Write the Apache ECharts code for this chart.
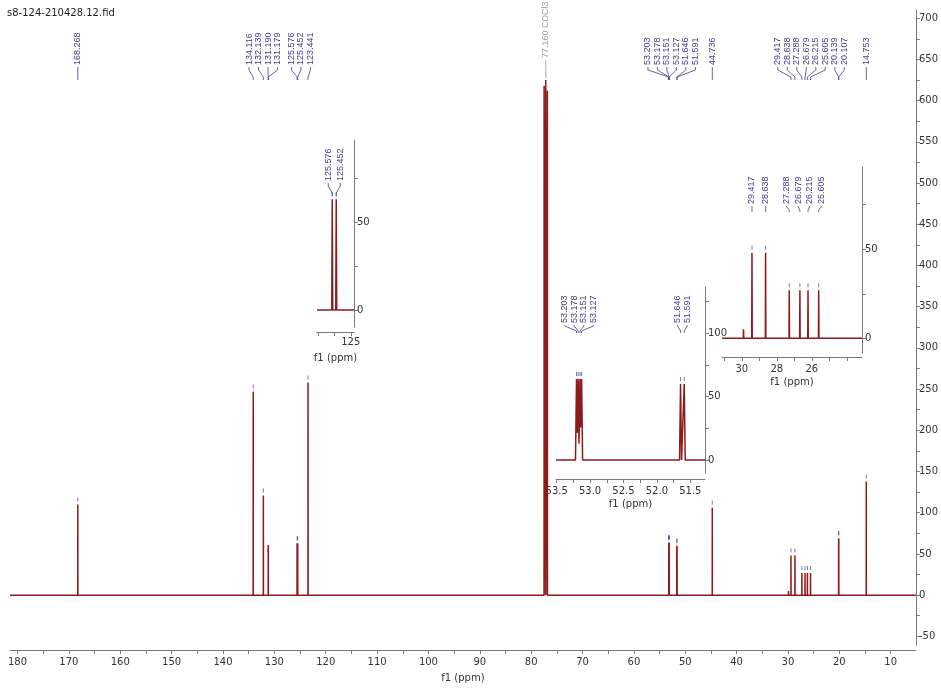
<!DOCTYPE html>
<html>
<head>
<meta charset="utf-8">
<script src="https://cdn.jsdelivr.net/npm/echarts@6/dist/echarts.min.js"></script>
<style>
  html, body { margin: 0; padding: 0; background: #fff; }
  #c { width: 941px; height: 688px; }
</style>
</head>
<body>
<div id="c"></div>
<script>
// 13C NMR spectrum, CDCl3
const specTitle = 's8-124-210428.12.fid';

// Picked peaks: chemical shift (ppm) and intensity
const peakPpm = [168.268, 134.116, 132.139, 131.190, 131.179, 125.576, 125.452, 123.441,
                 53.203, 53.178, 53.151, 53.127, 51.646, 51.591, 44.736,
                 29.900, 29.417, 28.638, 27.288, 26.679, 26.215, 25.605, 20.139, 20.107, 14.753];
const peakInt = [110, 247, 121, 48, 48, 63, 63, 258,
                 64, 64, 64, 64, 60, 60, 106,
                 5, 48, 48, 27, 27, 27, 27, 69, 69, 138];

// Solvent triplet
const solventPpm = [77.480, 77.160, 76.840];
const solventInt = [618, 625, 612];
const solventShift = 77.160;
const solventName = 'CDCl3';

// Shifts annotated on the full spectrum and on each expansion
const mainPicked = [168.268, 134.116, 132.139, 131.190, 131.179, 125.576, 125.452, 123.441,
                    53.203, 53.178, 53.151, 53.127, 51.646, 51.591, 44.736,
                    29.417, 28.638, 27.288, 26.679, 26.215, 25.605, 20.139, 20.107, 14.753];
const inset1Picked = [125.576, 125.452];
const inset2Picked = [53.203, 53.178, 53.151, 53.127, 51.646, 51.591];
const inset3Picked = [29.417, 28.638, 27.288, 26.679, 26.215, 25.605];

// Axis ticks and tick labels
const mainXLabels = [10, 20, 30, 40, 50, 60, 70, 80, 90, 100, 110, 120, 130, 140, 150, 160, 170, 180];
const mainXTicks = [10, 15, 20, 25, 30, 35, 40, 45, 50, 55, 60, 65, 70, 75, 80, 85, 90, 95, 100,
                    105, 110, 115, 120, 125, 130, 135, 140, 145, 150, 155, 160, 165, 170, 175, 180];
const mainYLabels = [-50, 0, 50, 100, 150, 200, 250, 300, 350, 400, 450, 500, 550, 600, 650, 700];
const mainYTicks = [-50, -25, 0, 25, 50, 75, 100, 125, 150, 175, 200, 225, 250, 275, 300, 325, 350,
                    375, 400, 425, 450, 475, 500, 525, 550, 575, 600, 625, 650, 675, 700];
const inset1XLabels = [125];
const inset1XTicks = [125, 125.5, 126];
const inset1YLabels = [0, 50];
const inset1YTicks = [0, 25, 50, 75];
const inset2XLabels = [51.5, 52.0, 52.5, 53.0, 53.5];
const inset2XTicks = [51.5, 51.75, 52.0, 52.25, 52.5, 52.75, 53.0, 53.25, 53.5];
const inset2YLabels = [0, 50, 100];
const inset2YTicks = [0, 25, 50, 75, 100, 125];
const inset3XLabels = [26, 28, 30];
const inset3XTicks = [24, 25, 26, 27, 28, 29, 30, 31];
const inset3YLabels = [0, 50];
const inset3YTicks = [0, 25, 50, 75];

const lineColor = '#8e1b1b';
const labelColor = '#3d3d8f';
const solventColor = '#9c9c9c';
const axisColor = '#7a7a7a';
const axisText = '#333';
const font = '"DejaVu Sans", Verdana, sans-serif';
const labelFont = '"Liberation Sans", Arial, sans-serif';
const halfWidth = 0.015;

const allPpm = peakPpm.concat(solventPpm);
const allInt = peakInt.concat(solventInt);

// Sum of narrow triangular lines, sampled at every breakpoint in [lo, hi]
function buildSpectrum(lo, hi) {
  const keys = new Set([lo, hi]);
  allPpm.forEach(p => {
    [p - halfWidth, p, p + halfWidth].forEach(k => {
      if (k >= lo && k <= hi) keys.add(+k.toFixed(5));
    });
  });
  const xs = Array.from(keys).sort((a, b) => b - a);
  return xs.map(x => [x, allPpm.reduce((s, p, i) =>
    s + allInt[i] * Math.max(0, 1 - Math.abs(x - p) / halfWidth), 0)]);
}

function pickedPoints(list) {
  return list.map(v => [v, peakInt[peakPpm.indexOf(v)]]);
}

const ranges = [
  { min: 5.09, max: 181.47, ymin: -60.5, ymax: 710 },
  { min: 124.9, max: 126.05, ymin: -9.66, ymax: 96.6 },
  { min: 51.28, max: 53.51, ymin: -10.26, ymax: 136.5 },
  { min: 23.13, max: 31.13, ymin: -8.26, ymax: 96.2 }
];

function xAxisCfg(gi, ticks, labels, fmt, offset, margin, gap) {
  return {
    type: 'value', gridIndex: gi, inverse: true, position: 'bottom',
    min: ranges[gi].min, max: ranges[gi].max, offset: offset,
    axisLine: { show: true, onZero: false, lineStyle: { color: axisColor, width: 1 } },
    axisTick: { show: true, customValues: ticks, length: 4, lineStyle: { color: axisColor } },
    axisLabel: { customValues: labels, formatter: fmt, color: axisText, fontSize: 10,
                 fontFamily: font, margin: margin },
    splitLine: { show: false },
    name: 'f1 (ppm)', nameLocation: 'middle', nameGap: gap,
    nameTextStyle: { color: axisText, fontSize: 10, fontFamily: font }
  };
}

function yAxisCfg(gi, ticks, labels) {
  return {
    type: 'value', gridIndex: gi, position: 'right',
    min: ranges[gi].ymin, max: ranges[gi].ymax,
    axisLine: { show: true, onZero: false, lineStyle: { color: axisColor, width: 1 } },
    axisTick: { show: true, customValues: ticks, length: 4, lineStyle: { color: axisColor } },
    axisLabel: { customValues: labels, color: axisText, fontSize: 10, fontFamily: font, margin: 3 },
    splitLine: { show: false }
  };
}

function lineSeries(gi) {
  const r = ranges[gi];
  return {
    type: 'line', xAxisIndex: gi, yAxisIndex: gi, data: buildSpectrum(r.min, r.max),
    showSymbol: false, symbol: 'none', clip: true, silent: true, animation: false,
    lineStyle: { color: lineColor, width: 1.5 }
  };
}

function markerSeries(gi, list) {
  return {
    type: 'scatter', xAxisIndex: gi, yAxisIndex: gi, data: pickedPoints(list),
    symbol: 'rect', symbolSize: [1, 4], symbolOffset: [0, -5], silent: true, animation: false,
    itemStyle: { color: labelColor, opacity: 0.7 }
  };
}

const chart = echarts.init(document.getElementById('c'), null, { renderer: 'canvas' });

chart.setOption({
  animation: false,
  backgroundColor: '#fff',
  grid: [
    { left: 10, right: 23, top: 10, bottom: 41 },
    { left: 317, width: 37, top: 140, height: 187 },
    { left: 556, width: 149, top: 287, height: 186 },
    { left: 722, width: 140, top: 167, height: 186 }
  ],
  xAxis: [
    xAxisCfg(0, mainXTicks, mainXLabels, v => String(v), 5, 7, 23),
    xAxisCfg(1, inset1XTicks, inset1XLabels, v => String(v), 5, 5, 21),
    xAxisCfg(2, inset2XTicks, inset2XLabels, v => v.toFixed(1), 6, 7, 20),
    xAxisCfg(3, inset3XTicks, inset3XLabels, v => String(v), 4, 7, 20)
  ],
  yAxis: [
    yAxisCfg(0, mainYTicks, mainYLabels),
    yAxisCfg(1, inset1YTicks, inset1YLabels),
    yAxisCfg(2, inset2YTicks, inset2YLabels),
    yAxisCfg(3, inset3YTicks, inset3YLabels)
  ],
  series: [
    lineSeries(0), lineSeries(1), lineSeries(2), lineSeries(3),
    markerSeries(0, mainPicked), markerSeries(1, inset1Picked),
    markerSeries(2, inset2Picked), markerSeries(3, inset3Picked)
  ]
});

// Spread labels apart so neighbours keep a minimum gap, centring each crowded group
function spread(xs, gap) {
  const items = xs.map((x, i) => ({ x, i })).sort((a, b) => a.x - b.x);
  const clusters = items.map(it => ({ members: [it], center: it.x }));
  let changed = true;
  while (changed) {
    changed = false;
    for (let k = 1; k < clusters.length; k++) {
      const a = clusters[k - 1], b = clusters[k];
      const aEnd = a.center + (a.members.length - 1) / 2 * gap;
      const bStart = b.center - (b.members.length - 1) / 2 * gap;
      if (bStart - aEnd < gap - 1e-6) {
        const m = a.members.concat(b.members);
        clusters.splice(k - 1, 2, { members: m, center: m.reduce((s, t) => s + t.x, 0) / m.length });
        changed = true;
        break;
      }
    }
  }
  const out = new Array(xs.length);
  clusters.forEach(c => c.members.forEach((m, j) => {
    out[m.i] = c.center + (j - (c.members.length - 1) / 2) * gap;
  }));
  return out;
}

function peakLabels(gi, list, gap, bottom, y0, y1, y2, y3, color, texts) {
  const px = list.map(v => chart.convertToPixel({ xAxisIndex: gi }, v));
  const lx = spread(px, gap);
  const els = [];
  list.forEach((v, i) => {
    els.push({
      type: 'text', x: lx[i], y: bottom, rotation: Math.PI / 2, silent: true, z: 10,
      style: { text: texts ? texts[i] : v.toFixed(3), fill: color, font: '9px ' + labelFont,
               align: 'left', verticalAlign: 'middle', textAlign: 'left', textVerticalAlign: 'middle' }
    });
    els.push({
      type: 'polyline', silent: true, z: 10,
      shape: { points: [[lx[i], y0], [lx[i], y1], [px[i], y2], [px[i], y3]] },
      style: { stroke: color, lineWidth: 0.8, fill: null }
    });
  });
  return els;
}

const graphics = [
  { type: 'text', left: 7, top: 8, silent: true,
    style: { text: specTitle, fill: '#222', font: '10px ' + font } }
]
  .concat(peakLabels(0, mainPicked, 9.5, 65, 67, 70, 77, 80, labelColor))
  .concat(peakLabels(0, [solventShift], 10, 58, 60, 62, 76, 78, solventColor,
                     [solventShift.toFixed(3) + ' ' + solventName]))
  .concat(peakLabels(1, inset1Picked, 12, 181, 183, 186, 193, 196, labelColor))
  .concat(peakLabels(2, inset2Picked, 9.5, 323, 325, 326, 331, 333, labelColor))
  .concat(peakLabels(3, inset3Picked, 11.5, 204, 206, 207, 210, 212, labelColor));

chart.setOption({ graphic: graphics });
</script>
</body>
</html>
